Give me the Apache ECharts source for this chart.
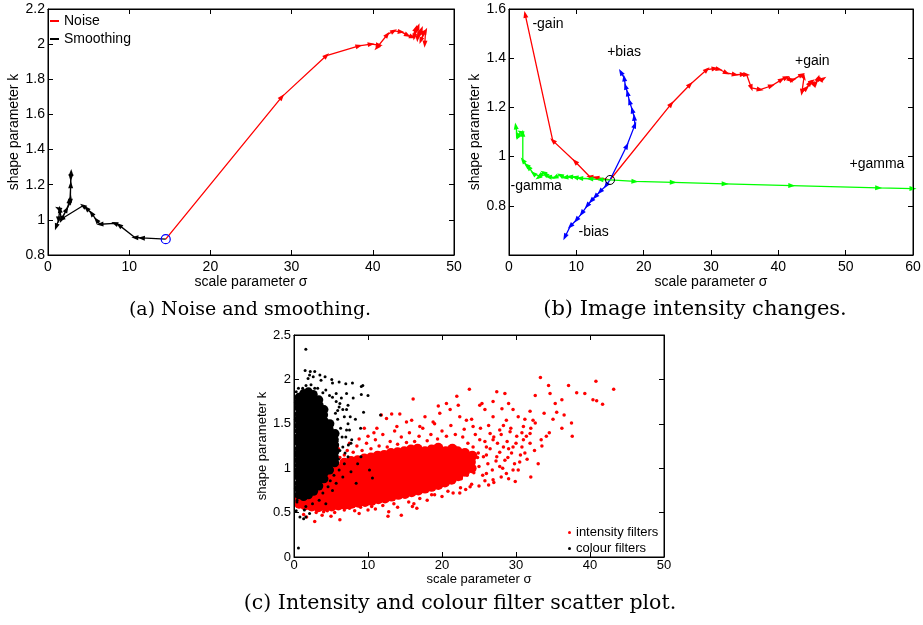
<!DOCTYPE html>
<html><head><meta charset="utf-8">
<script src="https://cdn.jsdelivr.net/npm/echarts@6/dist/echarts.min.js"></script>
<style>html,body{margin:0;padding:0;background:#fff}#c{width:923px;height:625px}</style>
</head><body><div id="c"></div>
<script>
// ---------- (a) Noise and smoothing ----------
const noisePath = [[14.5,0.89],[28.8,1.70],[34.3,1.935],[38.3,1.99],[39.8,2.0],[40.8,1.995],[40.5,1.98],[41.8,2.055],[42.6,2.075],[43.5,2.07],[44.3,2.05],[44.9,2.04],[45.3,2.09],[45.1,2.04],[45.6,2.10],[45.5,2.03],[46.0,2.085],[45.7,2.05],[46.3,2.07],[45.9,2.02],[46.5,2.075],[46.4,2.0]];
const smoothPath = [[14.5,0.89],[11.5,0.897],[10.7,0.90],[8.75,0.97],[8.2,0.98],[6.4,0.975],[5.95,1.0],[5.35,1.038],[4.73,1.066],[4.3,1.08],[1.65,1.005],[2.3,1.06],[2.7,1.11],[2.75,1.12],[2.8,1.2],[2.85,1.27],[2.8,1.24],[2.75,1.10],[1.65,1.0],[1.45,1.06],[1.25,1.065],[1.3,1.0],[1.0,0.96]];
const originA = [[14.5,0.89]];

// ---------- (b) Image intensity changes ----------
const gainMinus = [[15,0.905],[12.9,0.915],[12.0,0.918],[9.8,0.98],[6.5,1.065],[2.4,1.578]];
const gainPlus = [[15,0.905],[24.1,1.214],[26.9,1.293],[29.4,1.354],[30.6,1.358],[31.2,1.355],[32.3,1.34],[33.6,1.333],[34.8,1.334],[35.3,1.333],[36.0,1.279],[37.3,1.272],[39.0,1.288],[40.5,1.313],[41.2,1.322],[41.8,1.31],[42.2,1.313],[43.5,1.333],[43.8,1.32],[43.5,1.261],[44.2,1.279],[44.7,1.30],[45.0,1.306],[45.3,1.29],[45.6,1.30],[45.9,1.32],[46.3,1.31],[46.7,1.317]];
const biasPlus = [[15,0.905],[17.5,1.044],[18.7,1.129],[18.6,1.16],[18.3,1.19],[17.9,1.224],[17.6,1.259],[17.3,1.286],[17.1,1.32],[16.6,1.344]];
const biasMinus = [[15,0.905],[14.4,0.882],[13.5,0.857],[12.8,0.837],[12.2,0.82],[11.6,0.80],[10.8,0.769],[10.0,0.742],[9.1,0.717],[8.3,0.673]];
const gammaPlus = [[15,0.905],[18.7,0.899],[24.4,0.895],[32.1,0.889],[42.0,0.882],[54.9,0.873],[60,0.870]];
const gammaMinus = [[15,0.905],[13.5,0.907],[12,0.91],[10.5,0.912],[9.8,0.916],[9.0,0.918],[8.3,0.915],[7.6,0.925],[6.8,0.915],[5.85,0.918],[5.4,0.93],[5.1,0.935],[4.6,0.92],[4.35,0.915],[3.6,0.932],[2.9,0.958],[2.6,0.965],[2.05,0.985],[2.05,1.095],[1.7,1.1],[1.35,1.08],[1.2,1.09],[1.0,1.125]];
const originB = [[15,0.905]];
const annoText = ['-gain','+bias','+gain','+gamma','-gamma','-bias'];
const annoX = [3.4,14.5,42.4,50.5,0.15,10.25];
const annoK = [1.54,1.423,1.388,0.969,0.88,0.694];

// ---------- (c) scatter ----------
const redCore = [[0.7,0.60],[0.75,0.67],[1.5,0.58],[1.4,0.65],[1.6,0.72],[1.5,0.78],[2.4,0.57],[2.3,0.64],[2.5,0.71],[2.4,0.78],[2.3,0.84],[3.3,0.56],[3.2,0.63],[3.4,0.70],[3.3,0.77],[3.2,0.84],[4.2,0.57],[4.1,0.64],[4.3,0.71],[4.2,0.78],[4.1,0.85],[4.3,0.91],[5.1,0.57],[5.0,0.64],[5.2,0.71],[5.1,0.78],[5.0,0.85],[5.2,0.92],[5.1,0.98],[6.0,0.58],[5.9,0.65],[6.1,0.72],[6.0,0.79],[5.9,0.86],[6.1,0.93],[6.0,1.00],[6.9,0.59],[6.8,0.66],[7.0,0.73],[6.9,0.80],[6.8,0.87],[7.0,0.94],[6.9,1.01],[6.8,1.06],[7.8,0.60],[7.7,0.67],[7.9,0.74],[7.8,0.81],[7.7,0.88],[7.9,0.95],[7.8,1.02],[7.7,1.08],[8.7,0.61],[8.6,0.68],[8.8,0.75],[8.7,0.82],[8.6,0.89],[8.8,0.96],[8.7,1.03],[8.6,1.09],[9.6,0.62],[9.5,0.69],[9.7,0.76],[9.6,0.83],[9.5,0.90],[9.7,0.97],[9.6,1.04],[9.5,1.11],[10.5,0.63],[10.4,0.70],[10.6,0.77],[10.5,0.84],[10.4,0.91],[10.6,0.98],[10.5,1.05],[10.4,1.12],[11.4,0.65],[11.3,0.72],[11.5,0.79],[11.4,0.86],[11.3,0.93],[11.5,1.00],[11.4,1.07],[11.3,1.14],[12.3,0.66],[12.2,0.73],[12.4,0.80],[12.3,0.87],[12.2,0.94],[12.4,1.01],[12.3,1.08],[12.2,1.15],[13.2,0.68],[13.1,0.75],[13.3,0.82],[13.2,0.89],[13.1,0.96],[13.3,1.03],[13.2,1.10],[13.1,1.17],[14.1,0.70],[14.0,0.77],[14.2,0.84],[14.1,0.91],[14.0,0.98],[14.2,1.05],[14.1,1.12],[14.0,1.18],[15.0,0.71],[14.9,0.78],[15.1,0.85],[15.0,0.92],[14.9,0.99],[15.1,1.06],[15.0,1.13],[14.9,1.19],[15.9,0.73],[15.8,0.80],[16.0,0.87],[15.9,0.94],[15.8,1.01],[16.0,1.08],[15.9,1.15],[15.8,1.21],[16.8,0.75],[16.7,0.82],[16.9,0.89],[16.8,0.96],[16.7,1.03],[16.9,1.10],[16.8,1.17],[16.7,1.22],[17.7,0.77],[17.6,0.84],[17.8,0.91],[17.7,0.98],[17.6,1.05],[17.8,1.12],[17.7,1.19],[18.6,0.79],[18.5,0.86],[18.7,0.93],[18.6,1.00],[18.5,1.07],[18.7,1.14],[18.6,1.21],[19.5,0.81],[19.4,0.88],[19.6,0.95],[19.5,1.02],[19.4,1.09],[19.6,1.16],[19.5,1.23],[20.4,0.84],[20.3,0.91],[20.5,0.98],[20.4,1.05],[20.3,1.12],[20.5,1.19],[21.3,0.87],[21.2,0.94],[21.4,1.01],[21.3,1.08],[21.2,1.15],[21.4,1.22],[22.2,0.91],[22.1,0.98],[22.3,1.05],[22.2,1.12],[22.1,1.19],[23.1,0.96],[23.0,1.03],[23.2,1.10],[23.1,1.17],[24.0,1.00],[23.9,1.07],[24.1,1.14]];
const redSpread = [[43.2,1.89],[40.8,1.98],[41.7,1.72],[40.4,1.77],[40.9,1.76],[39.3,1.84],[38.2,1.85],[37.1,1.93],[36.2,1.77],[37.5,1.51],[37.6,1.36],[36.2,1.45],[35.5,1.63],[35.3,1.73],[34.4,1.93],[34.6,1.84],[33.3,2.02],[32.6,1.82],[31.9,1.64],[32.6,1.51],[34.1,1.36],[33.4,1.32],[32.0,0.90],[29.9,0.85],[29.0,1.73],[28.5,1.84],[27.4,1.86],[26.9,1.75],[25.4,1.73],[23.7,1.89],[22.0,1.81],[19.5,1.70],[16.1,1.78],[14.3,1.61],[13.2,1.61],[11.8,1.60],[23.8,0.79],[26.3,0.81],[22.4,0.72],[18.6,0.70],[16.6,0.55],[14.5,0.47],[12.7,0.46],[10.0,0.53],[6.2,0.42],[2.8,0.40],[1.7,0.45],[1.3,0.48],[0.6,0.57],[1.9,0.62],[4.0,0.51],
[10.0,1.36],[11.2,1.45],[12.5,1.56],[13.9,1.47],[15.2,1.52],[15.9,1.54],[17.0,1.47],[17.7,1.58],[18.8,1.52],[19.7,1.62],[20.6,1.73],[21.1,1.66],[22.2,1.71],[23.3,1.54],[24.2,1.47],[25.1,1.71],[25.8,1.66],[26.9,1.58],[28.1,1.67],[28.7,1.54],[29.6,1.66],[30.3,1.58],[31.0,1.47],[31.4,1.36],[31.9,1.28],[31.2,1.17],[30.5,1.07],[29.6,0.98],[28.7,0.94],[27.8,1.02],[26.9,0.87],[26.0,0.94],[25.6,1.13],[26.9,1.32],[28.3,1.24],[29.4,1.17],[30.1,1.36],[29.2,1.41],[27.8,1.43],[26.5,1.39],[25.1,1.32],[24.2,1.24],[24.9,1.17],[26.0,1.24],[27.4,1.13],[28.5,1.09],[29.6,1.24],[30.8,1.24],[31.9,1.39],[32.3,1.54],
[3.0,0.50],[4.5,0.52],[5.5,0.50],[6.8,0.53],[7.5,0.55],[8.2,0.52],[9.0,0.56],[10.5,0.57],[11.0,0.54],[12.0,0.58],[13.5,0.60],[14.0,0.56],[15.5,0.62],[16.2,0.60],[17.0,0.66],[18.0,0.64],[19.0,0.70],[20.0,0.68],[20.8,0.74],[21.5,0.72],[22.5,0.78],[23.2,0.76],[24.0,0.82],[25.0,0.80],[25.8,0.86],[27.0,0.84],[28.0,0.90],[29.0,0.88],[3.8,0.47],[5.0,0.46],[8.8,0.49],[12.8,0.51],[16.0,0.57],
[4.8,1.02],[5.5,1.08],[6.2,1.12],[6.8,1.15],[7.2,1.20],[8.0,1.18],[8.5,1.25],[9.2,1.20],[9.8,1.28],[10.4,1.22],[11.0,1.32],[11.5,1.25],[12.0,1.38],[12.6,1.24],[13.0,1.30],[13.6,1.42],[14.0,1.27],[14.5,1.35],[15.2,1.29],[15.6,1.40],[16.3,1.30],[16.9,1.36],[17.4,1.45],[18.0,1.31],[18.5,1.38],[19.0,1.50],[19.4,1.33],[20.0,1.42],[20.6,1.36],[21.2,1.48],[21.8,1.38],[22.4,1.58],[23.0,1.44],[8.8,1.33],[10.8,1.40],[7.5,1.28],[6.0,1.22],[9.5,1.45],
[22.8,1.35],[23.5,1.28],[24.5,1.38],[25.2,1.45],[25.8,1.30],[26.5,1.22],[27.0,1.35],[27.5,1.28],[28.0,1.38],[28.8,1.30],[29.3,1.45],[30.0,1.28],[30.6,1.15],[31.0,1.32],[22.6,0.88],[23.4,0.92],[24.3,0.95],[25.0,1.02],[25.5,0.92],[26.2,1.05],[26.8,0.98],[27.3,1.08],[28.2,1.00],[28.9,1.12],[29.8,1.05],[30.3,0.98],[31.5,1.10],[32.5,1.20],[33.0,1.05],[27.8,1.18],[26.0,1.15],[24.8,1.12],[23.8,1.05],[29.0,1.22],[30.8,1.40],[32.0,1.45],[33.5,1.25],[34.5,1.40],[35.0,1.55],[36.5,1.60],[33.8,1.62],[31.2,1.55],[28.3,1.48],[26.3,1.48],[24.0,1.55]];
const blackCore = [[0.65,0.70],[0.6,0.77],[0.7,0.83],[0.65,0.90],[0.6,0.96],[0.7,1.03],[0.65,1.09],[0.6,1.16],[0.7,1.22],[0.65,1.29],[0.6,1.35],[0.7,1.42],[0.65,1.48],[0.6,1.55],[0.7,1.61],[0.65,1.68],[0.6,1.74],[0.7,1.80],[1.3,0.68],[1.35,0.74],[1.25,0.81],[1.3,0.87],[1.35,0.94],[1.25,1.00],[1.3,1.07],[1.35,1.13],[1.25,1.20],[1.3,1.26],[1.35,1.33],[1.25,1.39],[1.3,1.46],[1.35,1.52],[1.25,1.59],[1.3,1.65],[1.35,1.72],[1.25,1.78],[1.3,1.84],[1.95,0.70],[1.9,0.76],[2.0,0.83],[1.95,0.89],[1.9,0.96],[2.0,1.02],[1.95,1.09],[1.9,1.15],[2.0,1.22],[1.95,1.28],[1.9,1.35],[2.0,1.41],[1.95,1.48],[1.9,1.54],[2.0,1.61],[1.95,1.67],[1.9,1.74],[2.0,1.80],[1.95,1.86],[2.65,0.74],[2.7,0.80],[2.6,0.87],[2.65,0.93],[2.7,1.00],[2.6,1.06],[2.65,1.13],[2.7,1.19],[2.6,1.26],[2.65,1.32],[2.7,1.39],[2.6,1.45],[2.65,1.52],[2.7,1.58],[2.6,1.65],[2.65,1.71],[2.7,1.78],[2.6,1.83],[3.35,0.80],[3.3,0.86],[3.4,0.93],[3.35,0.99],[3.3,1.06],[3.4,1.12],[3.35,1.19],[3.3,1.25],[3.4,1.32],[3.35,1.38],[3.3,1.45],[3.4,1.51],[3.35,1.58],[3.3,1.64],[3.4,1.71],[3.35,1.77],[4.05,0.88],[4.1,0.95],[4.0,1.01],[4.05,1.08],[4.1,1.14],[4.0,1.21],[4.05,1.27],[4.1,1.34],[4.0,1.40],[4.05,1.47],[4.1,1.53],[4.0,1.60],[4.05,1.66],[4.8,0.98],[4.75,1.05],[4.85,1.11],[4.8,1.18],[4.75,1.24],[4.85,1.31],[4.8,1.37],[4.75,1.44],[4.85,1.50],[5.5,1.06],[5.45,1.13],[5.55,1.19],[5.5,1.26],[5.45,1.32],[5.55,1.39]];
const blackSpread = [[1.6,2.34],[1.5,2.10],[2.2,2.09],[2.8,2.09],[3.5,2.05],[2.6,2.03],[1.9,2.01],[4.2,2.03],[5.1,2.0],[6.1,1.97],[7.0,1.95],[7.9,1.96],[9.1,1.92],[9.3,1.93],[10.0,1.82],[9.1,1.83],[8.0,1.79],[7.1,1.84],[6.4,1.79],[7.3,1.71],[6.2,1.73],[7.1,1.66],[7.6,1.58],[9.4,1.63],[8.3,1.55],[11.7,1.60],[9.0,1.45],[7.1,1.43],[7.8,1.32],[7.35,1.26],[6.9,1.17],[1.17,1.90],[1.62,1.93],[4.3,1.88],[4.8,1.82],[5.2,1.80],[5.7,1.75],[6.1,1.69],[6.6,1.66],[6.8,1.58],[7.3,1.50],[7.5,1.43],[7.0,1.35],[7.7,1.28],[6.6,1.24],[7.3,1.13],[6.8,1.05],[6.1,0.98],[6.6,0.90],[5.7,0.83],[5.2,0.75],[4.6,0.79],[3.9,0.72],[3.4,0.64],[2.5,0.60],[1.6,0.57],[4.3,0.60],[9.05,1.13],[10.2,0.98],[10.6,0.89],[8.4,0.83],[7.7,0.96],[8.6,1.05],[2.1,2.05],[3.65,1.99],[5.2,1.96],[2.3,1.94],[3.2,1.90],[5.7,1.84],[3.9,1.85],[1.6,0.45],[2.1,0.49],[1.4,0.53],[0.6,0.10],[0.8,0.45],[1.3,0.43],[0.3,0.52],[0.4,0.62],[5.9,1.55],[6.3,1.45],[5.8,1.30],[6.2,1.20],[5.6,1.62],[6.5,1.35],[5.4,0.92],[4.9,0.86],[6.0,1.10],[5.9,1.65],[0.6,1.90],[0.3,1.86],[2.8,1.90],[0.4,0.64]];

const FONT = 'Liberation Sans';
function axisPair(gi, min, max, interval, pos, opts) {
  const main = {
    gridIndex: gi, type: 'value', min, max, interval, position: pos,
    axisLine: {show: true, onZero: false, lineStyle: {color: '#000', width: 1}},
    axisTick: {show: true, inside: true, length: 5, lineStyle: {color: '#000'}},
    axisLabel: Object.assign({color: '#000', fontSize: opts.fs, fontFamily: FONT, margin: opts.margin}, opts.label || {}),
    splitLine: {show: false},
    name: opts.name, nameLocation: 'middle', nameGap: opts.gap,
    nameTextStyle: {color: '#000', fontSize: opts.fs, fontFamily: FONT},
    z: 10
  };
  const mirror = {
    gridIndex: gi, type: 'value', min, max, interval,
    position: pos === 'bottom' ? 'top' : 'right',
    axisLine: {show: true, onZero: false, lineStyle: {color: '#000', width: 1}},
    axisTick: {show: true, inside: true, length: 5, lineStyle: {color: '#000'}},
    axisLabel: {show: false}, splitLine: {show: false}, z: 10
  };
  return [main, mirror];
}
const xAxes = [].concat(
  axisPair(0, 0, 50, 10, 'bottom', {fs: 14, margin: 5, name: 'scale parameter σ', gap: 19}),
  axisPair(1, 0, 60, 10, 'bottom', {fs: 14, margin: 5, name: 'scale parameter σ', gap: 19}),
  axisPair(2, 0, 50, 10, 'bottom', {fs: 13, margin: 2, name: 'scale parameter σ', gap: 15})
);
const yAxes = [].concat(
  axisPair(0, 0.8, 2.2, 0.2, 'left', {fs: 14, margin: 3, name: 'shape parameter k', gap: 25}),
  axisPair(1, 0.6, 1.6, 0.2, 'left', {fs: 14, margin: 3, name: 'shape parameter k', gap: 25, label: {showMinLabel: false}}),
  axisPair(2, 0, 2.5, 0.5, 'left', {fs: 13, margin: 3, name: 'shape parameter k', gap: 21})
);

function pathSeries(name, data, color, ai) {
  return {
    name, type: 'line', xAxisIndex: ai, yAxisIndex: ai, data: data.map(p => ({value: p})),
    lineStyle: {color, width: 1.3, opacity: 1}, itemStyle: {color, opacity: 1, borderWidth: 0},
    symbol: 'triangle', symbolSize: [5, 7], showSymbol: true, showAllSymbol: true,
    animation: false, z: 3, clip: true
  };
}
function dots(name, data, color, size) {
  return {name, type: 'scatter', xAxisIndex: 4, yAxisIndex: 4, data, symbol: 'circle', symbolSize: size,
    itemStyle: {color, opacity: 1, borderWidth: 0}, emphasis: {disabled: true}, large: false, clip: true};
}
const series = [
  pathSeries('Noise', noisePath, '#ff0000', 0),
  pathSeries('Smoothing', smoothPath, '#000000', 0),
  {type: 'scatter', xAxisIndex: 0, yAxisIndex: 0, data: originA, symbol: 'circle', symbolSize: 9,
   itemStyle: {color: 'rgba(0,0,0,0)', borderColor: '#0000ff', borderWidth: 1.2, opacity: 1}, z: 5},
  pathSeries('-gain', gainMinus, '#ff0000', 2),
  pathSeries('+gain', gainPlus, '#ff0000', 2),
  pathSeries('+bias', biasPlus, '#0000ff', 2),
  pathSeries('-bias', biasMinus, '#0000ff', 2),
  pathSeries('+gamma', gammaPlus, '#00ff00', 2),
  pathSeries('-gamma', gammaMinus, '#00ff00', 2),
  {type: 'scatter', xAxisIndex: 2, yAxisIndex: 2, data: originB, symbol: 'circle', symbolSize: 9,
   itemStyle: {color: 'rgba(0,0,0,0)', borderColor: '#000', borderWidth: 1, opacity: 1}, z: 5},
  {type: 'scatter', xAxisIndex: 2, yAxisIndex: 2, symbol: 'circle', symbolSize: 1,
   itemStyle: {color: 'rgba(0,0,0,0)'},
   data: annoText.map((t, i) => ({name: t, value: [annoX[i], annoK[i]]})),
   label: {show: true, position: 'right', distance: 0, formatter: '{b}', color: '#000', opacity: 1, textBorderWidth: 0, fontSize: 14, fontFamily: FONT}, z: 6},
  dots('intensity filters', redCore, '#ff0000', 10),
  dots('intensity filters', redSpread, '#ff0000', 3.5),
  dots('colour filters', blackCore, '#000000', 9),
  dots('colour filters', blackSpread, '#000000', 3)
];

const gridBase = {show: true, borderColor: '#000', borderWidth: 1, backgroundColor: '#fff', containLabel: false, outerBoundsMode: 'none'};
const option = {
  animation: false,
  backgroundColor: '#fff',
  textStyle: {fontFamily: FONT},
  grid: [
    Object.assign({left: 48, top: 9, width: 406, height: 246}, gridBase),
    Object.assign({left: 509, top: 9, width: 404, height: 246}, gridBase),
    Object.assign({left: 294, top: 335, width: 370, height: 222}, gridBase)
  ],
  xAxis: xAxes,
  yAxis: yAxes,
  legend: [
    {data: ['Noise', 'Smoothing'], left: 50, top: 13, orient: 'vertical', padding: 0, itemWidth: 9, itemHeight: 2, itemGap: 2,
     icon: 'rect', selectedMode: false, textStyle: {fontSize: 14, lineHeight: 16, color: '#000', fontFamily: FONT}},
    {data: ['intensity filters', 'colour filters'], left: 568, top: 525, orient: 'vertical', padding: 0, itemWidth: 3, itemHeight: 3, itemGap: 1,
     icon: 'circle', selectedMode: false, textStyle: {fontSize: 13, lineHeight: 15, color: '#000', fontFamily: FONT}}
  ],
  graphic: [
    {type: 'text', x: 250, y: 310, style: {text: '(a) Noise and smoothing.', font: '19px "DejaVu Serif"', fill: '#000', align: 'center', verticalAlign: 'middle'}},
    {type: 'text', x: 695, y: 310, style: {text: '(b) Image intensity changes.', font: '21px "DejaVu Serif"', fill: '#000', align: 'center', verticalAlign: 'middle'}},
    {type: 'text', x: 460, y: 604, style: {text: '(c) Intensity and colour filter scatter plot.', font: '20.5px "DejaVu Serif"', fill: '#000', align: 'center', verticalAlign: 'middle'}}
  ],
  series
};
const chart = echarts.init(document.getElementById('c'));
chart.setOption(option);

// orient each arrowhead along the direction of travel of its path
const paths = {0: noisePath, 1: smoothPath, 3: gainMinus, 4: gainPlus, 5: biasPlus, 6: biasMinus, 7: gammaPlus, 8: gammaMinus};
const upd = series.map(() => ({}));
Object.keys(paths).forEach(k => {
  const si = +k, path = paths[k];
  upd[si] = {data: path.map((p, i) => {
    if (i === 0) return {value: p, symbol: 'none'};
    const a = chart.convertToPixel({seriesIndex: si}, path[i - 1]);
    const b = chart.convertToPixel({seriesIndex: si}, p);
    const ang = Math.atan2(-(b[1] - a[1]), b[0] - a[0]) * 180 / Math.PI;
    return {value: p, symbolRotate: ang - 90};
  })};
});
chart.setOption({series: upd});
</script></body></html>
